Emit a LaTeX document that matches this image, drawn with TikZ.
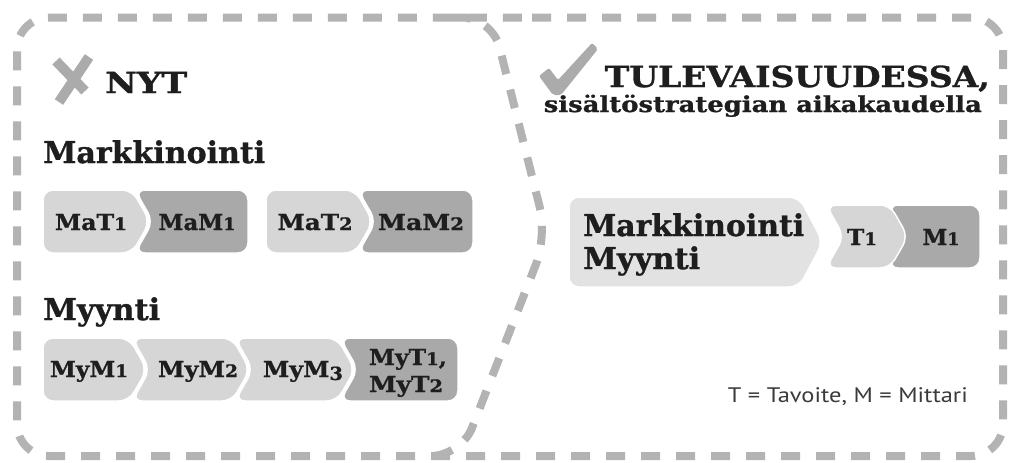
\documentclass[tikz,border=0pt]{standalone}
\usepackage{fontspec}
\usepackage{graphicx}
\newfontfamily\slab{DejaVu Serif}[BoldFeatures={FakeBold=1}]
\newfontfamily\legendfont{PT Sans}
\definecolor{dashgray}{HTML}{B3B3B3}
\definecolor{markgray}{HTML}{ABABAB}
\definecolor{lightbox}{HTML}{D6D6D6}
\definecolor{palebox}{HTML}{E2E2E2}
\definecolor{darkbox}{HTML}{A9A9A9}
\definecolor{ink}{HTML}{1E1E1E}
\definecolor{legendink}{HTML}{3A3A3A}

% stretch a text horizontally to a given width (in pt), keeping its height
\newcommand\fitw[2]{\resizebox{#1pt}{\height}{#2}}
% old-style looking figures: small 1 and 2, descending 3
\newcommand\osa[1]{\scalebox{0.78}{#1}}
\newcommand\osd[1]{\raisebox{-0.22\height}{\scalebox{0.82}{#1}}}

% tag shapes: #1 style, #2 left x, #3 right x (tip), #4 top y, #5 bottom y, #6 point depth
% flat left, pointed right
\newcommand\chevA[6]{%
  \pgfmathsetmacro\cym{(#4+#5)/2}\pgfmathsetmacro\ccr{#3-#6}%
  \pgfmathsetmacro\cxm{(#2+\ccr)/2}%
  \filldraw[#1] (\cxm,#4) -- (\ccr,#4) -- (#3,\cym) -- (\ccr,#5) -- (#2,#5) -- (#2,#4) -- cycle;}
% notched left, pointed right
\newcommand\chevB[6]{%
  \pgfmathsetmacro\cym{(#4+#5)/2}\pgfmathsetmacro\ccr{#3-#6}%
  \pgfmathsetmacro\ccl{#2+#6}\pgfmathsetmacro\cxm{(#2+\ccr)/2}%
  \filldraw[#1] (\cxm,#4) -- (\ccr,#4) -- (#3,\cym) -- (\ccr,#5) -- (#2,#5) -- (\ccl,\cym) -- (#2,#4) -- cycle;}
% notched left, flat right
\newcommand\chevC[6]{%
  \pgfmathsetmacro\cym{(#4+#5)/2}%
  \pgfmathsetmacro\ccl{#2+#6}\pgfmathsetmacro\cxm{(#2+#3)/2}%
  \filldraw[#1] (\cxm,#4) -- (#3,#4) -- (#3,#5) -- (#2,#5) -- (\ccl,\cym) -- (#2,#4) -- cycle;}

\tikzset{
  border/.style={draw=dashgray, line width=8pt, dash pattern=on 19pt off 16pt},
  tagshape/.style={rounded corners=10pt, draw=white, line width=1.5pt},
  lbl/.style={inner sep=0pt, text=ink, font=\slab\bfseries},
  title/.style={lbl, font=\slab\bfseries\fontsize{29}{34}\selectfont},
  heading/.style={lbl, font=\slab\bfseries\fontsize{30}{36}\selectfont},
  subtitle/.style={lbl, font=\slab\bfseries\fontsize{22}{26}\selectfont},
  taglbl/.style={lbl, font=\slab\bfseries\fontsize{22}{26}\selectfont},
  legend/.style={inner sep=0pt, text=legendink, font=\legendfont\fontsize{21}{25}\selectfont},
}

\begin{document}
\begin{tikzpicture}[x=1pt,y=-1pt]
\fill[white] (0,0) rectangle (1009,463);
\useasboundingbox (0,0) rectangle (1009,463);

% dashed frame and the dividing line between the two panels
\draw[border, rounded corners=32pt] (500,17.5) -- (1003,17.5) -- (1003,456) -- (17,456) -- (17,17.5) -- cycle;
\draw[border, rounded corners=30pt] (452,17.5) -- (492,17.5) -- (547,236) -- (461,456) -- (438,456);

% ---------- left panel: NYT ----------
\draw[markgray, line width=10pt] (56,61) -- (85,91);
\draw[markgray, line width=10pt] (89,57) -- (59,102);
\node[title, anchor=base west] (nyt) at (105,93) {\fitw{82}{NYT}};

\node[heading, anchor=base west] (ma) at (43,163) {\fitw{222}{Markkinointi}};

% marketing row
\chevC{tagshape, fill=darkbox}{135}{248}{190}{253}{18}
\chevA{tagshape, fill=lightbox}{43}{150}{190}{253}{18}
\chevC{tagshape, fill=darkbox}{358}{473}{190}{253}{18}
\chevA{tagshape, fill=lightbox}{266}{373}{190}{253}{18}
\node[taglbl, anchor=base] (mat1) at (91,230) {\fitw{72}{MaT\osa{1}}};
\node[taglbl, anchor=base] (mam1) at (197,230) {\fitw{77}{MaM\osa{1}}};
\node[taglbl, anchor=base] (mat2) at (315,230) {\fitw{75}{MaT\osa{2}}};
\node[taglbl, anchor=base] (mam2) at (421,230) {\fitw{86}{MaM\osa{2}}};

\node[heading, anchor=base west] (my) at (43,320) {\fitw{117}{Myynti}};

% sales row
\chevC{tagshape, fill=darkbox}{340}{458}{338}{401}{18}
\chevB{tagshape, fill=lightbox}{235}{355}{338}{401}{18}
\chevB{tagshape, fill=lightbox}{132}{250}{338}{401}{18}
\chevA{tagshape, fill=lightbox}{43}{147}{338}{401}{18}
\node[taglbl, anchor=base] (mym1) at (89,377) {\fitw{78}{MyM\osa{1}}};
\node[taglbl, anchor=base] (mym2) at (198,377) {\fitw{80}{MyM\osa{2}}};
\node[taglbl, anchor=base] (mym3) at (303,377) {\fitw{80}{MyM\osd{3}}};
\node[taglbl, anchor=base] (myt1) at (408,365) {\fitw{78}{MyT\osa{1},}};
\node[taglbl, anchor=base] (myt2) at (406,392) {\fitw{74}{MyT\osa{2}}};

% ---------- right panel: TULEVAISUUDESSA ----------
\fill[markgray, rounded corners=2pt] (539,76) -- (549,68) -- (558,80) -- (592,43) -- (598,49) -- (561,95) -- (553,95) -- cycle;
\node[title, anchor=base east] (fut) at (990,87) {\fitw{385}{TULEVAISUUDESSA,}};
\node[subtitle, anchor=base east] (era) at (982,112) {\fitw{438}{sisältöstrategian aikakaudella}};

\chevC{tagshape, fill=darkbox}{888}{980}{205}{268}{18}
\chevB{tagshape, fill=lightbox}{826}{908}{205}{268}{18}
\chevA{tagshape, fill=palebox}{569}{823}{197}{287}{24}
\node[heading, anchor=base west] (both1) at (583,236) {\fitw{221}{Markkinointi}};
\node[heading, anchor=base west] (both2) at (583,269) {\fitw{117}{Myynti}};
\node[taglbl, anchor=base] (t1) at (862,245) {\fitw{30}{T\osa{1}}};
\node[taglbl, anchor=base] (m1) at (941,245) {\fitw{37}{M\osa{1}}};

\node[legend, anchor=base east] (key) at (968,402) {\fitw{240}{T = Tavoite, M = Mittari}};
\end{tikzpicture}
\end{document}
